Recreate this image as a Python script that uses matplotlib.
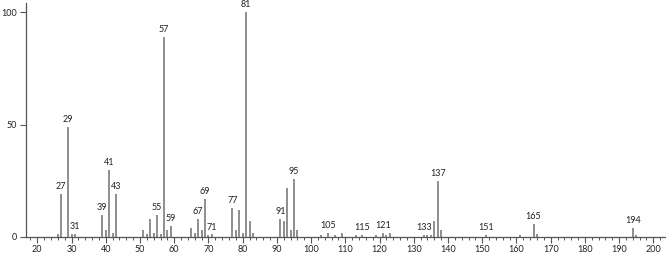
"""Mass spectrum stick plot (relative abundance vs m/z)."""

import matplotlib

matplotlib.use("Agg")
import matplotlib.pyplot as plt
from matplotlib.ticker import MultipleLocator

# m/z values and relative intensities (% of base peak)
mz = [26, 27, 29, 30, 31, 39, 40, 41, 42, 43,
      51, 52, 53, 54, 55, 56, 57, 58, 59,
      65, 66, 67, 68, 69, 70, 71, 77, 78, 79, 80, 81, 82, 83,
      91, 92, 93, 94, 95, 96, 103, 105, 107, 109,
      113, 115, 119, 121, 122, 123, 133, 134, 135, 136, 137, 138,
      151, 161, 165, 166, 194, 195]
intensity = [1.3, 19, 49, 1.2, 1.5, 10, 3, 30, 2, 19,
             3, 1.3, 8, 2, 10, 1.2, 89, 3, 5,
             4, 2, 8, 3, 17, 1, 1.2, 13, 3, 12, 2, 100, 7, 2,
             8, 7, 22, 3, 26, 3, 1, 2, 1, 2,
             1, 1, 1, 2, 1, 2, 1, 1, 1, 7, 25, 3,
             1, 1, 6, 1.5, 4, 1]

# peaks carrying a mass label
labelled = [27, 29, 31, 39, 41, 43, 55, 57, 59, 67, 69, 71, 77, 81,
            91, 95, 105, 115, 121, 133, 137, 151, 165, 194]

x_ticks = list(range(20, 201, 10))
y_ticks = [0, 50, 100]

LINE_COLOR = "#707070"
FONT = "Lato"

plt.rcParams["font.family"] = [FONT, "DejaVu Sans"]

fig = plt.figure(figsize=(6.66, 2.54), dpi=100)
ax = fig.add_axes([25.7 / 666, 17 / 254, (666 - 25.7) / 666, 234 / 254])

ax.vlines(mz, 0, intensity, color=LINE_COLOR, linewidth=1.1)

lookup = dict(zip(mz, intensity))
for m in labelled:
    ax.annotate(str(m), (m, lookup[m]), xytext=(0, 2), textcoords="offset points",
                ha="center", va="bottom", fontsize=6.5, color="#222222")

ax.set_xlim(16.6, 203.7)
ax.set_ylim(0, 104)
ax.set_xticks(x_ticks)
ax.xaxis.set_minor_locator(MultipleLocator(2))
ax.set_yticks(y_ticks)

for side in ("top", "right"):
    ax.spines[side].set_visible(False)
for side in ("left", "bottom"):
    ax.spines[side].set_color("#555555")
    ax.spines[side].set_linewidth(0.9)

ax.tick_params(axis="both", which="major", length=4, width=0.8, colors="#555555",
               labelsize=6.5, labelcolor="#222222", pad=2)
ax.tick_params(axis="x", which="minor", length=2, width=0.7, colors="#555555")

fig.savefig("out.png", dpi=100)
plt.close(fig)
